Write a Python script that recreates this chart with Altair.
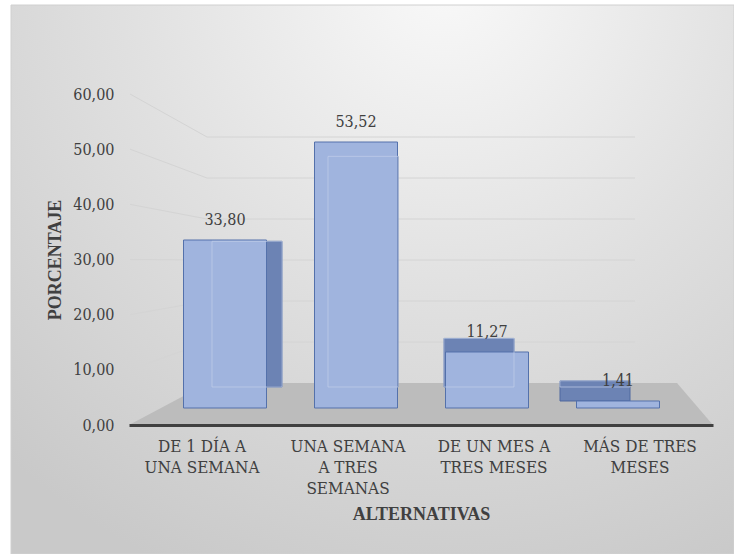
import altair as alt
import pandas as pd

# ---------------- data ----------------
categories = [
    "DE 1 DÍA A\nUNA SEMANA",
    "UNA SEMANA\nA TRES\nSEMANAS",
    "DE UN MES A\nTRES MESES",
    "MÁS DE TRES\nMESES",
]
values = [33.80, 53.52, 11.27, 1.41]
y_ticks = [0, 10, 20, 30, 40, 50, 60]
x_title = "ALTERNATIVAS"
y_title = "PORCENTAJE"

# ---------------- style / layout ----------------
TITLE_FONT = "Liberation Serif"
FONT = "DejaVu Serif Condensed"
TEXT = "#404040"
W, H = 584, 331            # plot area (front axis plane)
YMAX = 60
WALL_BASE, WALL_K = 289, 4.1
BAR_FRONT_BASE, BAR_FRONT_K = 314, 4.97
BAR_BACK_BASE, BAR_BACK_K = 293, 4.31

bars = pd.DataFrame({"cat": categories, "v": values})
grid = pd.DataFrame({"v": y_ticks})
one = pd.DataFrame({"k": [0]})

wall_scale = alt.Scale(domain=[0, YMAX], range=[WALL_BASE, WALL_BASE - YMAX * WALL_K], nice=False, zero=False)
front_bar_y = alt.Scale(domain=[0, YMAX], range=[BAR_FRONT_BASE, BAR_FRONT_BASE - YMAX * BAR_FRONT_K], nice=False, zero=False)
back_bar_y = alt.Scale(domain=[0, YMAX], range=[BAR_BACK_BASE, BAR_BACK_BASE - YMAX * BAR_BACK_K], nice=False, zero=False)
front_x = alt.Scale(type="band", domain=categories, range=[30.5, 554.5], paddingInner=0, paddingOuter=0)
back_x = alt.Scale(type="band", domain=categories, range=[60, 524], paddingInner=0, paddingOuter=0)

bg = alt.Chart(one).mark_rect(
    fill=alt.Gradient(
        gradient="radial",
        stops=[
            alt.GradientStop(color="#f9f9f9", offset=0),
            alt.GradientStop(color="#e0e0e0", offset=0.5),
            alt.GradientStop(color="#c9c9c9", offset=1),
        ],
        x1=0.6, y1=0.08, r1=0, x2=0.6, y2=0.08, r2=0.9,
    ),
    stroke="#d0d0d0", strokeWidth=1,
).encode(x=alt.value(-118), x2=alt.value(605), y=alt.value(-89), y2=alt.value(460))

floor = alt.Chart(one).mark_point(
    shape="M -1 0.0719 L -0.7295 -0.0719 L 0.8767 -0.0719 L 1 0.0719 Z",
    size=341056, filled=True, color="#bcbcbc", opacity=1, strokeWidth=0,
).encode(x=alt.value(292), y=alt.value(310))

gridlines = alt.Chart(grid).transform_filter("datum.v > 0").mark_rule(
    color="#d4d4d4", strokeWidth=1
).encode(
    y=alt.Y("v:Q", scale=wall_scale, axis=None),
    x=alt.value(78), x2=alt.value(506),
)

diagonals = alt.Chart(grid).transform_filter("datum.v > 0").transform_calculate(
    w=f"({WALL_BASE} - ({H} - datum.v * {H} / {YMAX})) / {WALL_K}"
).mark_rule(color="#d4d4d4", strokeWidth=1).encode(
    y=alt.Y("w:Q", scale=wall_scale, axis=None),
    y2="v:Q",
    x=alt.value(1), x2=alt.value(78),
)

shadow = alt.Chart(bars).transform_calculate(
    w0=f"min(0, ({BAR_BACK_BASE} - ({BAR_FRONT_BASE} - datum.v * {BAR_FRONT_K})) / {BAR_BACK_K})"
).mark_bar(size=70, color="#6c83b4", stroke="#4e689f", strokeWidth=1).encode(
    x=alt.X("cat:N", scale=back_x, axis=None),
    y=alt.Y("v:Q", scale=back_bar_y, axis=None),
    y2="w0:Q",
)

front = alt.Chart(bars).mark_bar(size=83, color="#a0b4de", stroke="#5471ab", strokeWidth=1).encode(
    x=alt.X("cat:N", scale=front_x, axis=None),
    y=alt.Y("v:Q", scale=front_bar_y, axis=None),
    y2=alt.datum(0),
)

inner = alt.Chart(bars).mark_bar(
    size=70, fillOpacity=0, stroke="#c2cfea", strokeWidth=1, strokeOpacity=0.7
).encode(
    x=alt.X("cat:N", scale=back_x, axis=None),
    y=alt.Y("v:Q", scale=back_bar_y, axis=None),
    y2=alt.datum(0),
)

labels = alt.Chart(bars).transform_calculate(
    lbl="replace(format(datum.v, '.2f'), '.', ',')"
).mark_text(font=FONT, fontSize=16, color=TEXT, baseline="middle", dy=-20).encode(
    x=alt.X("cat:N", scale=front_x, axis=None),
    y=alt.Y("v:Q", scale=front_bar_y, axis=None),
    text="lbl:N",
)

axes = alt.Chart(bars).mark_point(opacity=0).encode(
    x=alt.X(
        "cat:N",
        scale=alt.Scale(type="band", domain=categories, paddingInner=0, paddingOuter=0),
        axis=alt.Axis(
            title=x_title, titleFont=TITLE_FONT, titleFontSize=18, titleFontWeight="bold",
            titleColor=TEXT, titlePadding=9,
            labelFont=FONT, labelFontSize=17, labelColor=TEXT, labelAngle=0,
            labelExpr="split(datum.label, '\\n')", labelLineHeight=21,
            labelPadding=13, labelOverlap=False,
            ticks=False, tickSize=0, domain=True, domainColor="#404040", domainWidth=3,
            grid=False, zindex=1,
        ),
    ),
    y=alt.Y(
        "v:Q",
        scale=alt.Scale(domain=[0, YMAX], nice=False),
        axis=alt.Axis(
            values=y_ticks, labelExpr="replace(format(datum.value, '.2f'), '.', ',')",
            title=y_title, titleFont=TITLE_FONT, titleFontSize=18, titleFontWeight="bold",
            titleColor=TEXT, titlePadding=8,
            labelFont=FONT, labelFontSize=16, labelColor=TEXT, labelPadding=15,
            ticks=False, tickSize=0, domain=False, grid=False, zindex=1,
        ),
    ),
)

chart = alt.layer(bg, floor, gridlines, diagonals, shadow, front, inner, labels, axes).resolve_scale(
    x="independent", y="independent"
).properties(
    width=W, height=H,
    padding={"left": 129, "top": 94, "right": 21, "bottom": 129},
    autosize=alt.AutoSizeParams(type="none"),
    background="white",
).configure_view(stroke=None)

chart.save("out.html", embed_options={"renderer": "svg", "actions": False})
